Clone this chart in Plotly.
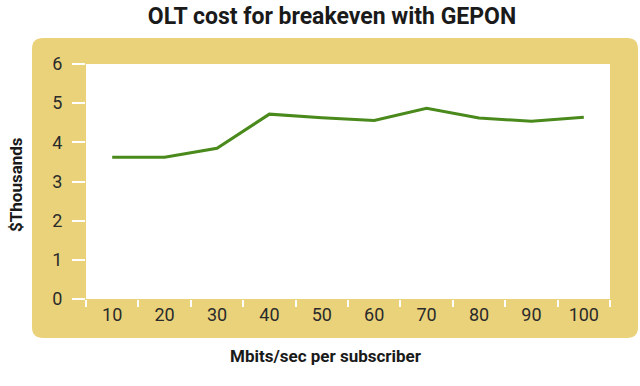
import plotly.graph_objects as go

categories = ["10", "20", "30", "40", "50", "60", "70", "80", "90", "100"]
cost_thousands = [3.62, 3.62, 3.85, 4.72, 4.63, 4.56, 4.87, 4.62, 4.54, 4.64]
y_ticks = [0, 1, 2, 3, 4, 5, 6]

W, H = 640, 386
L, R, T, B = 86, 30, 64, 87
PW, PH = W - L - R, H - T - B

def px_to_paper_x(px):
    return (px - L) / PW

def px_to_paper_y(py):
    return (H - B - py) / PH

# yellow rounded frame (pixel bounds)
fx0, fx1, fy0, fy1, rad = 32, 638, 38, 338, 11
ax0, ax1 = px_to_paper_x(fx0), px_to_paper_x(fx1)
ay_top, ay_bot = px_to_paper_y(fy0), px_to_paper_y(fy1)
rx, ry = rad / PW, rad / PH
path = (
    f"M {ax0+rx},{ay_top} L {ax1-rx},{ay_top} Q {ax1},{ay_top} {ax1},{ay_top-ry} "
    f"L {ax1},{ay_bot+ry} Q {ax1},{ay_bot} {ax1-rx},{ay_bot} "
    f"L {ax0+rx},{ay_bot} Q {ax0},{ay_bot} {ax0},{ay_bot+ry} "
    f"L {ax0},{ay_top-ry} Q {ax0},{ay_top} {ax0+rx},{ay_top} Z"
)

font_family = "Roboto, Liberation Sans Narrow, sans-serif"
text_color = "#2b2b2b"

fig = go.Figure()
fig.add_trace(go.Scatter(
    x=categories, y=cost_thousands, mode="lines",
    line=dict(color="#4a8a1c", width=3),
    hoverinfo="x+y", showlegend=False,
))

fig.update_layout(
    width=W, height=H,
    margin=dict(l=L, r=R, t=T, b=B, autoexpand=False),
    paper_bgcolor="white",
    plot_bgcolor="white",
    title=dict(
        text="<b>OLT cost for breakeven with GEPON</b>",
        x=332 / W, y=1 - 16 / H, xanchor="center", yanchor="middle",
        font=dict(family=font_family, size=23, color="#1a1a1a"),
    ),
    shapes=[
        dict(type="path", path=path, xref="paper", yref="paper",
             fillcolor="#ead27a", line=dict(width=0), layer="below"),
        dict(type="rect", x0=0, x1=1, y0=0, y1=1, xref="paper", yref="paper",
             fillcolor="white", line=dict(width=0), layer="below"),
    ],
    annotations=[
        dict(text="<b>Mbits/sec per subscriber</b>", xref="paper", yref="paper",
             x=px_to_paper_x(326), y=px_to_paper_y(356), xanchor="center", yanchor="middle",
             showarrow=False, font=dict(family=font_family, size=17, color="#1a1a1a")),
        dict(text="<b>$Thousands</b>", xref="paper", yref="paper",
             x=px_to_paper_x(16), y=px_to_paper_y(185), xanchor="center", yanchor="middle",
             textangle=-90, showarrow=False,
             font=dict(family=font_family, size=17, color="#1a1a1a")),
    ],
)

fig.update_xaxes(
    type="category", tickson="boundaries", range=[-0.5, 9.5], automargin=False,
    ticks="outside", ticklen=7, tickwidth=2, tickcolor="white",
    showgrid=False, showline=False, zeroline=False,
    ticklabelstandoff=3,
    tickfont=dict(family=font_family, size=18, color=text_color),
)
fig.update_yaxes(
    range=[0, 6], tickvals=y_ticks, ticktext=[str(v) for v in y_ticks], automargin=False,
    ticks="outside", ticklen=13, tickwidth=2, tickcolor="white",
    showgrid=False, showline=False, zeroline=False,
    ticklabelstandoff=6,
    tickfont=dict(family=font_family, size=18, color=text_color),
)

fig.write_html(
    "out.html",
    config={"displayModeBar": False},
    post_script="document.body.style.margin='0';document.body.style.overflow='hidden';",
)
